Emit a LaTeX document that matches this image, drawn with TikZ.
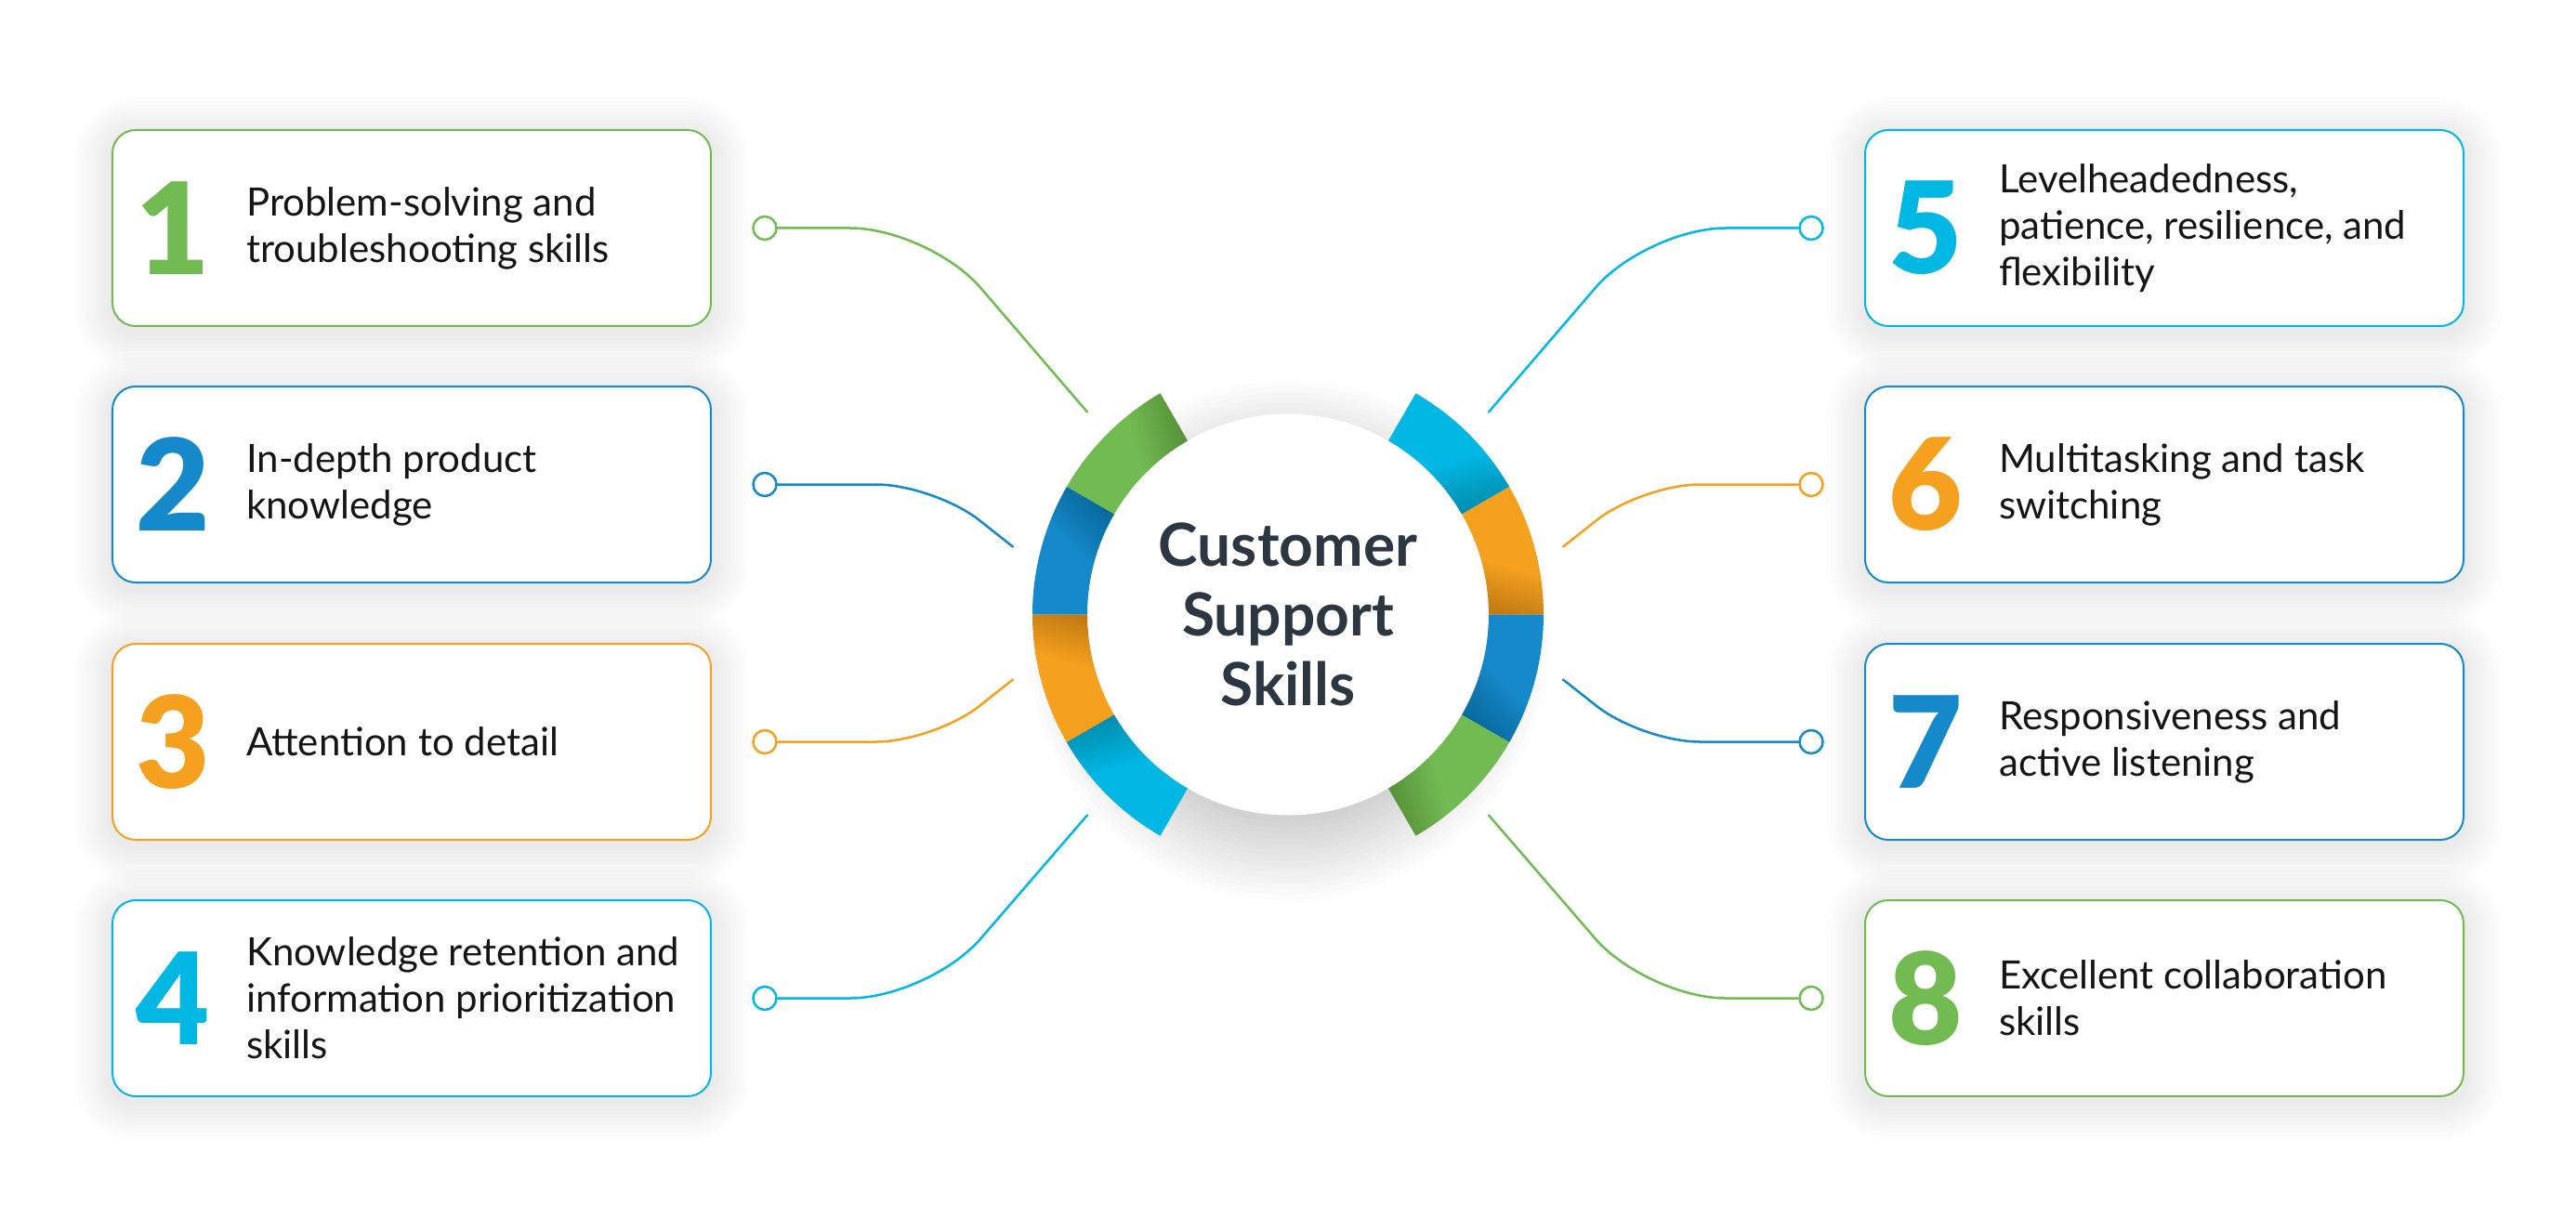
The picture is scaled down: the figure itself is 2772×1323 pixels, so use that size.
\documentclass[tikz,border=0pt]{standalone}
\usepackage{fontspec}
\setmainfont{Lato}
\IfFontExistsTF{Lato Black}{\newfontfamily\numfont{Lato Black}}{\newcommand\numfont{\bfseries}}
\definecolor{cgreen}{HTML}{72BB53}
\definecolor{cblue}{HTML}{1589C9}
\definecolor{corange}{HTML}{F5A11F}
\definecolor{ccyan}{HTML}{00B6E3}
\definecolor{ctitle}{HTML}{2D3741}
\definecolor{ctext}{HTML}{151515}
\pgfdeclarelayer{bg}
\pgfsetlayers{bg,main}
\tikzset{
 skillbox/.style={draw=#1, line width=2pt, fill=white, rounded corners=25pt,
   minimum width=644pt, minimum height=211pt, inner sep=0pt},
 numtxt/.style={text=#1, font=\numfont\fontsize{137}{137}\selectfont, inner sep=0pt, anchor=west},
 skilltxt/.style={text=ctext, font=\fontsize{42}{50}\selectfont, align=left, inner sep=0pt, anchor=west},
 enddot/.style={circle, draw=#1, line width=2.5pt, fill=white, minimum size=25pt, inner sep=0pt},
 conn/.style={draw=#1, line width=2.5pt, line cap=round},
}
\newcommand\ringpart[3]{%
  \fill[#1] (#2:216pt) arc[start angle=#2, end angle=#3, radius=216pt] -- (#3:275pt) arc[start angle=#3, end angle=#2, radius=275pt] -- cycle;
  \begin{scope}
    \clip (#2:216pt) arc[start angle=#2, end angle=#3, radius=216pt] -- (#3:275pt) arc[start angle=#3, end angle=#2, radius=275pt] -- cycle;
    \foreach \kk in {0,...,12}{%
      \pgfmathsetmacro\hh{54-4*\kk}%
      \fill[black, opacity=0.015, shift={(#2:216pt)}, rotate=#2-15] (-60pt,-8pt) rectangle (120pt,\hh pt);
    }
  \end{scope}}
\newcommand\boxshadow[1]{%
  \foreach \i in {1,...,10}{%
    \pgfmathsetmacro\ex{\i*4}%
    \pgfmathsetmacro\rr{25+\i*4}%
    \fill[black, opacity=0.007, rounded corners=\rr pt]
      ([xshift=-\ex pt, yshift=-\ex pt-6pt]#1.south west) rectangle ([xshift=\ex pt, yshift=\ex pt-6pt]#1.north east);
  }}
\begin{document}
\begin{tikzpicture}[x=1pt,y=1pt]
\useasboundingbox (-1386,-661.5) rectangle (1386,661.5);

% boxes left
\node[skillbox=cgreen]  (b1) at (-943,416) {};
\node[skillbox=cblue]   (b2) at (-943,140) {};
\node[skillbox=corange] (b3) at (-943,-137) {};
\node[skillbox=ccyan]   (b4) at (-943,-413) {};
% boxes right
\node[skillbox=ccyan]   (b5) at (943,416) {};
\node[skillbox=cblue]   (b6) at (943,140) {};
\node[skillbox=cblue]   (b7) at (943,-137) {};
\node[skillbox=cgreen]  (b8) at (943,-413) {};

% numbers
\node[numtxt=cgreen]  (n1) at ([xshift=26pt]b1.west) {1};
\node[numtxt=cblue]   (n2) at ([xshift=26pt]b2.west) {2};
\node[numtxt=corange] (n3) at ([xshift=26pt]b3.west) {3};
\node[numtxt=ccyan]   (n4) at ([xshift=26pt]b4.west) {4};
\node[numtxt=ccyan]   (n5) at ([xshift=26pt]b5.west) {5};
\node[numtxt=corange] (n6) at ([xshift=26pt]b6.west) {6};
\node[numtxt=cblue]   (n7) at ([xshift=26pt]b7.west) {7};
\node[numtxt=cgreen]  (n8) at ([xshift=26pt]b8.west) {8};

% texts
\node[skilltxt] (t1) at ([xshift=145pt]b1.west) {Problem-solving and\\troubleshooting skills};
\node[skilltxt] (t2) at ([xshift=145pt]b2.west) {In-depth product\\knowledge};
\node[skilltxt] (t3) at ([xshift=145pt]b3.west) {Attention to detail};
\node[skilltxt] (t4) at ([xshift=145pt]b4.west) {Knowledge retention and\\information prioritization\\skills};
\node[skilltxt] (t5) at ([xshift=145pt]b5.west) {Levelheadedness,\\patience, resilience, and\\flexibility};
\node[skilltxt] (t6) at ([xshift=145pt]b6.west) {Multitasking and task\\switching};
\node[skilltxt] (t7) at ([xshift=145pt]b7.west) {Responsiveness and\\active listening};
\node[skilltxt] (t8) at ([xshift=145pt]b8.west) {Excellent collaboration\\skills};

% hub
\node[circle, fill=white, minimum size=432pt, inner sep=0pt,
  text=ctitle, font=\bfseries\fontsize{64}{75}\selectfont, align=center] (hub) at (0,0) {Customer\\Support\\Skills};

% background layer: page, soft shadows
\begin{pgfonlayer}{bg}
  \fill[white] (-1386,-661.5) rectangle (1386,661.5);
  \boxshadow{b1}\boxshadow{b2}\boxshadow{b3}\boxshadow{b4}
  \boxshadow{b5}\boxshadow{b6}\boxshadow{b7}\boxshadow{b8}
  \foreach \i in {1,...,15}{%
    \pgfmathsetmacro\rr{190+\i*6}%
    \fill[black, opacity=0.012] ([yshift=-28pt]hub.center) circle[radius=\rr pt];
  }
\end{pgfonlayer}

% ring
\ringpart{cgreen}{120}{150}
\ringpart{cblue}{150}{180}
\ringpart{corange}{180}{210}
\ringpart{ccyan}{210}{240}
\ringpart{ccyan}{30}{60}
\ringpart{corange}{0}{30}
\ringpart{cblue}{-30}{0}
\ringpart{cgreen}{-60}{-30}

% end dots
\node[enddot=cgreen]  (d1) at (-563,416) {};
\node[enddot=cblue]   (d2) at (-563,140) {};
\node[enddot=corange] (d3) at (-563,-137) {};
\node[enddot=ccyan]   (d4) at (-563,-413) {};
\node[enddot=ccyan]   (d5) at (563,416) {};
\node[enddot=corange] (d6) at (563,140) {};
\node[enddot=cblue]   (d7) at (563,-137) {};
\node[enddot=cgreen]  (d8) at (563,-413) {};

% connector ends near ring
\coordinate (e1) at (-216,218);
\coordinate (e2) at (-296,73);
\coordinate (e3) at (-296,-70);
\coordinate (e4) at (-216,-216);
\coordinate (e5) at (216,218);
\coordinate (e6) at (296,73);
\coordinate (e7) at (296,-70);
\coordinate (e8) at (216,-216);

% connectors
\draw[conn=cgreen,  rounded corners=85pt] (d1.east) -- (-386,416) -- (e1);
\draw[conn=cblue,   rounded corners=62pt] (d2.east) -- (-381,140) -- (e2);
\draw[conn=corange, rounded corners=62pt] (d3.east) -- (-381,-137) -- (e3);
\draw[conn=ccyan,   rounded corners=85pt] (d4.east) -- (-386,-413) -- (e4);
\draw[conn=ccyan,   rounded corners=85pt] (d5.west) -- (386,416) -- (e5);
\draw[conn=corange, rounded corners=62pt] (d6.west) -- (381,140) -- (e6);
\draw[conn=cblue,   rounded corners=62pt] (d7.west) -- (381,-137) -- (e7);
\draw[conn=cgreen,  rounded corners=85pt] (d8.west) -- (386,-413) -- (e8);
\end{tikzpicture}
\end{document}
